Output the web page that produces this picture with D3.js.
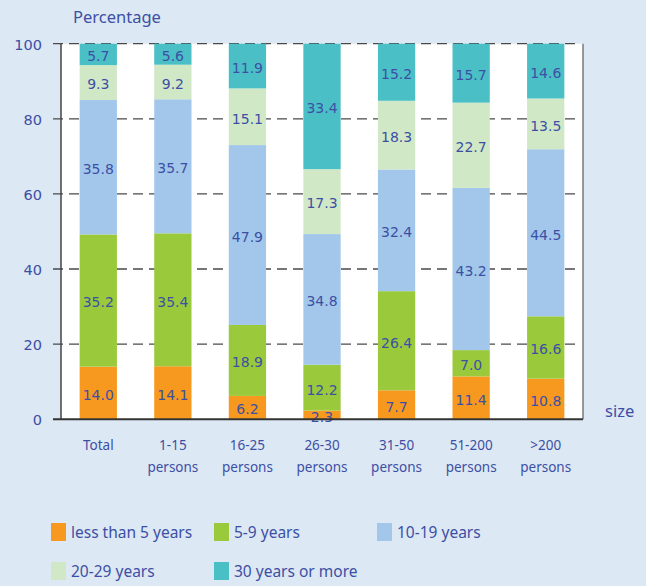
<!DOCTYPE html>
<html>
<head>
<meta charset="utf-8">
<script src="https://cdn.jsdelivr.net/npm/d3@7"></script>
<style>
  body { margin: 0; background: #dce8f3; }
  svg { display: block; }
</style>
</head>
<body>
<div id="chart"></div>
<script>
// categories (x axis), two text lines each
var categories = ["Total", "1-15", "16-25", "26-30", "31-50", "51-200", ">200"];
var categoryLine2 = ["", "persons", "persons", "persons", "persons", "persons", "persons"];

// series, bottom to top
var seriesNames = ["less than 5 years", "5-9 years", "10-19 years", "20-29 years", "30 years or more"];
var lessThan5 = [14.0, 14.1, 6.2, 2.3, 7.7, 11.4, 10.8];
var years5to9 = [35.2, 35.4, 18.9, 12.2, 26.4, 7.0, 16.6];
var years10to19 = [35.8, 35.7, 47.9, 34.8, 32.4, 43.2, 44.5];
var years20to29 = [9.3, 9.2, 15.1, 17.3, 18.3, 22.7, 13.5];
var years30plus = [5.7, 5.6, 11.9, 33.4, 15.2, 15.7, 14.6];

var yTicks = [0, 20, 40, 60, 80, 100];

(function () {
    var colors = ["#f7991f", "#9aca3c", "#a2c7ea", "#d1e8c7", "#4ac0c6"];
    var textColor = "#3d4fa5";
    var numFont = "'DejaVu Sans', Verdana, sans-serif";
    var wordFont = "'Noto Sans', sans-serif";

    var W = 646, H = 586;
    var margin = { top: 43.7, left: 61 },
        width = 522,
        height = 375.5;

    var svg = d3.select("#chart").append("svg")
        .attr("width", W)
        .attr("height", H);

    var g = svg.append("g")
        .attr("transform", "translate(" + margin.left + "," + margin.top + ")");

    // build rows for stacking
    var allSeries = [lessThan5, years5to9, years10to19, years20to29, years30plus];
    var rows = categories.map(function (c, i) {
        var r = { cat: c };
        allSeries.forEach(function (s, k) { r["s" + k] = s[i]; });
        return r;
    });
    var keys = allSeries.map(function (s, k) { return "s" + k; });
    var stacked = d3.stack().keys(keys)(rows);

    var x = d3.scaleBand()
        .domain(categories)
        .range([0, width])
        .paddingInner(0.5)
        .paddingOuter(0.25);

    var y = d3.scaleLinear()
        .domain([0, 100])
        .range([height, 0]);

    // plot background
    g.append("rect")
        .attr("width", width)
        .attr("height", height)
        .attr("fill", "#ffffff");

    // right border
    g.append("line")
        .attr("x1", width).attr("x2", width)
        .attr("y1", 0).attr("y2", height)
        .attr("stroke", "#7a7a7a")
        .attr("stroke-width", 1.5);

    // dashed gridlines with outer tick
    g.append("g")
        .selectAll("line")
        .data(yTicks.filter(function (d) { return d > 0; }))
        .enter()
        .append("line")
        .attr("x1", -8)
        .attr("x2", width - 4)
        .attr("y1", function (d) { return y(d); })
        .attr("y2", function (d) { return y(d); })
        .attr("stroke", "#4a4a4a")
        .attr("stroke-width", 1.3)
        .attr("stroke-dasharray", "10,6");

    // bars
    g.append("g")
        .selectAll("g")
        .data(stacked)
        .enter()
        .append("g")
        .attr("fill", function (d, i) { return colors[i]; })
        .selectAll("rect")
        .data(function (d) { return d; })
        .enter()
        .append("rect")
        .attr("x", function (d) { return x(d.data.cat); })
        .attr("width", x.bandwidth())
        .attr("y", function (d) { return y(d[1]); })
        .attr("height", function (d) { return y(d[0]) - y(d[1]); });

    // value labels
    stacked.forEach(function (layer, k) {
        g.append("g")
            .selectAll("text")
            .data(layer)
            .enter()
            .append("text")
            .attr("x", function (d) { return x(d.data.cat) + x.bandwidth() / 2; })
            .attr("y", function (d) { return y((d[0] + d[1]) / 2) + 2; })
            .attr("dy", "0.35em")
            .attr("text-anchor", "middle")
            .style("font-family", numFont)
            .style("font-size", "14px")
            .style("fill", textColor)
            .text(function (d) { return allSeries[k][categories.indexOf(d.data.cat)].toFixed(1); });
    });

    // left axis line
    g.append("line")
        .attr("x1", 0).attr("x2", 0)
        .attr("y1", 0).attr("y2", height)
        .attr("stroke", "#444")
        .attr("stroke-width", 1.5);

    // bottom axis line with tick
    g.append("line")
        .attr("x1", -8).attr("x2", width)
        .attr("y1", height).attr("y2", height)
        .attr("stroke", "#333")
        .attr("stroke-width", 2);

    // y tick labels
    g.append("g")
        .selectAll("text")
        .data(yTicks)
        .enter()
        .append("text")
        .attr("x", -19)
        .attr("y", function (d) { return y(d) + 1; })
        .attr("dy", "0.35em")
        .attr("text-anchor", "end")
        .style("font-family", numFont)
        .style("font-size", "14.5px")
        .style("fill", textColor)
        .text(function (d) { return d; });

    // category labels
    var cat = g.append("g")
        .selectAll("text")
        .data(categories)
        .enter()
        .append("text")
        .attr("text-anchor", "middle")
        .style("font-family", wordFont)
        .style("font-size", "13.5px")
        .style("fill", textColor)
        .attr("transform", function (d) {
            return "translate(" + (x(d) + x.bandwidth() / 2) + "," + (height + 31) + ")";
        });
    cat.append("tspan")
        .attr("x", 0)
        .text(function (d) { return d; });
    cat.append("tspan")
        .attr("x", 0)
        .attr("dy", 22)
        .text(function (d, i) { return categoryLine2[i]; });

    // axis titles
    svg.append("text")
        .attr("x", 73)
        .attr("y", 23)
        .style("font-family", wordFont)
        .style("font-size", "16.5px")
        .style("fill", textColor)
        .text("Percentage");

    svg.append("text")
        .attr("x", 605)
        .attr("y", 417)
        .style("font-family", wordFont)
        .style("font-size", "16.5px")
        .style("fill", textColor)
        .text("size");

    // legend
    var legendPos = [[51, 523], [214, 523], [377, 523], [51, 562], [214, 562]];
    var legend = svg.append("g")
        .selectAll("g")
        .data(seriesNames)
        .enter()
        .append("g")
        .attr("transform", function (d, i) {
            return "translate(" + legendPos[i][0] + "," + legendPos[i][1] + ")";
        });
    legend.append("rect")
        .attr("width", 15)
        .attr("height", 18)
        .attr("fill", function (d, i) { return colors[i]; });
    legend.append("text")
        .attr("x", 20)
        .attr("y", 15)
        .style("font-family", wordFont)
        .style("font-size", "15.5px")
        .style("fill", textColor)
        .text(function (d) { return d; });
})();
</script>
</body>
</html>
